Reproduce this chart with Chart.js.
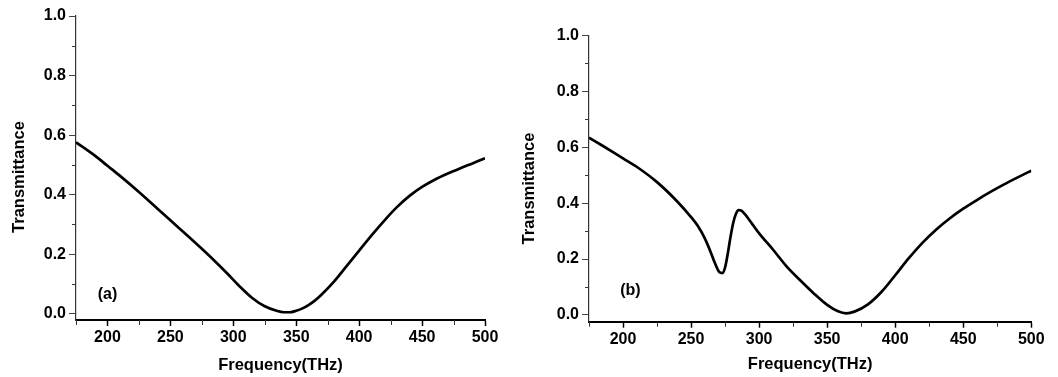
<!DOCTYPE html>
<html>
<head>
<meta charset="utf-8">
<script src="https://cdn.jsdelivr.net/npm/chart.js@4"></script>
<style>
  html, body { margin: 0; padding: 0; background: #fff; }
  #wrap { position: relative; width: 1058px; height: 377px; overflow: hidden; }
  .panel { position: absolute; top: 0; height: 377px; }
  #panelA { left: 0; width: 515px; }
  #panelB { left: 515px; width: 543px; }
</style>
</head>
<body>
<div id="wrap">
  <div class="panel" id="panelA"><canvas id="chartA"></canvas></div>
  <div class="panel" id="panelB"><canvas id="chartB"></canvas></div>
</div>
<script>
// Panel (a): single dip
const freqA = [175, 190, 200, 210, 225, 240, 250, 265, 275, 285, 295, 305, 315, 325, 335, 340, 345, 350, 355, 360, 365, 370,
  380, 390, 400, 410, 420, 430, 440, 450, 460, 470, 480, 490, 500];
const transA = [0.576, 0.531, 0.497, 0.463, 0.409, 0.352, 0.314, 0.257, 0.218, 0.178, 0.136, 0.092, 0.053, 0.025, 0.009, 0.005, 0.005, 0.010, 0.018, 0.030, 0.045, 0.064,
  0.108, 0.160, 0.212, 0.264, 0.313, 0.358, 0.396, 0.426, 0.450, 0.470, 0.488, 0.505, 0.522];

// Panel (b): sharp dip near 272 THz plus broad dip
const freqB = [175, 185, 200, 210, 225, 240, 250, 255, 260, 264, 268, 271, 273, 275, 277, 279, 281, 283, 285, 287,
  290, 295, 300, 310, 320, 330, 340, 350, 358, 364, 370, 380, 390, 400, 410, 420, 430, 440, 450, 460, 470, 480, 490, 500];
const transB = [0.634, 0.605, 0.560, 0.530, 0.475, 0.405, 0.350, 0.318, 0.275, 0.230, 0.180, 0.152, 0.150, 0.170, 0.220, 0.280, 0.330, 0.362, 0.375, 0.373,
  0.358, 0.325, 0.292, 0.235, 0.175, 0.125, 0.078, 0.036, 0.013, 0.006, 0.012, 0.038, 0.083, 0.142, 0.203, 0.258, 0.305, 0.345, 0.380, 0.411, 0.440, 0.467, 0.492, 0.516];

const xTickValues = [200, 250, 300, 350, 400, 450, 500];
const xMinorValues = [175, 225, 275, 325, 375, 425, 475];
const yTickValues = [0, 0.2, 0.4, 0.6, 0.8, 1.0];
const yMinorValues = [0.1, 0.3, 0.5, 0.7, 0.9];

const fontFamily = "'Liberation Sans', Arial, sans-serif";
Chart.defaults.font.family = fontFamily;
Chart.defaults.font.weight = 'bold';
Chart.defaults.font.size = 16;
Chart.defaults.color = '#000';

// minor ticks, y title and panel label
const extras = {
  id: 'extras',
  afterDraw(chart, args, opts) {
    const { ctx, chartArea, scales: { x, y } } = chart;
    ctx.save();
    ctx.strokeStyle = '#333';
    ctx.lineWidth = 1;
    xMinorValues.forEach(v => {
      const px = Math.round(x.getPixelForValue(v)) + 0.5;
      ctx.beginPath();
      ctx.moveTo(px, chartArea.bottom);
      ctx.lineTo(px, chartArea.bottom + 5);
      ctx.stroke();
    });
    yMinorValues.forEach(v => {
      const py = Math.round(y.getPixelForValue(v)) + 0.5;
      ctx.beginPath();
      ctx.moveTo(chartArea.left, py);
      ctx.lineTo(chartArea.left - 4, py);
      ctx.stroke();
    });

    ctx.fillStyle = '#000';
    ctx.font = 'bold 16px ' + fontFamily;
    ctx.textAlign = 'center';
    ctx.textBaseline = 'middle';
    ctx.fillText(opts.label, x.getPixelForValue(opts.labelAt[0]), y.getPixelForValue(opts.labelAt[1]));

    ctx.font = 'bold 16.5px ' + fontFamily;
    ctx.translate(opts.titleX, (chartArea.top + chartArea.bottom) / 2 + opts.titleDy);
    ctx.rotate(-Math.PI / 2);
    ctx.fillText('Transmittance', 0, 0);
    ctx.restore();
  }
};

function makeChart(id, freq, trans, cfg) {
  const points = freq.map((f, i) => ({ x: f, y: trans[i] }));
  return new Chart(document.getElementById(id), {
    type: 'line',
    data: {
      datasets: [{
        data: points,
        borderColor: '#000',
        borderWidth: 2.7,
        pointRadius: 0,
        cubicInterpolationMode: 'monotone',
        fill: false
      }]
    },
    options: {
      responsive: true,
      maintainAspectRatio: false,
      animation: false,
      layout: { padding: cfg.padding },
      plugins: {
        legend: { display: false },
        tooltip: { enabled: false },
        extras: { label: cfg.label, labelAt: cfg.labelAt, titleX: cfg.titleX, titleDy: cfg.titleDy }
      },
      scales: {
        x: {
          type: 'linear',
          min: 175,
          max: 500,
          afterBuildTicks: s => { s.ticks = xTickValues.map(v => ({ value: v })); },
          afterFit: s => { s.height = cfg.xHeight; },
          ticks: { padding: 2, maxRotation: 0, callback: v => String(v) },
          grid: { drawOnChartArea: false, drawTicks: true, tickLength: 6, tickColor: '#000', tickWidth: 1.5 },
          border: { display: true, color: '#000', width: 2 },
          title: { display: true, text: 'Frequency(THz)', padding: 0, font: { size: 16.5 } }
        },
        y: {
          min: cfg.yMin,
          max: 1.0,
          afterBuildTicks: s => { s.ticks = yTickValues.map(v => ({ value: v })); },
          afterFit: s => { s.width = cfg.yWidth; },
          ticks: { padding: 3, callback: v => v.toFixed(1) },
          grid: { drawOnChartArea: false, drawTicks: true, tickLength: 7, tickColor: '#444', tickWidth: 1 },
          border: { display: true, color: '#333', width: 1.2 }
        }
      }
    },
    plugins: [extras]
  });
}

makeChart('chartA', freqA, transA, {
  padding: { left: 0, right: 30, top: 16, bottom: 1.5 },
  xHeight: 55.5, yWidth: 76, yMin: -0.021,
  label: '(a)', labelAt: [200, 0.063], titleX: 19, titleDy: 9
});
makeChart('chartB', freqB, transB, {
  padding: { left: 0, right: 26.7, top: 35.3, bottom: 3 },
  xHeight: 52.3, yWidth: 74, yMin: -0.024,
  label: '(b)', labelAt: [205.4, 0.086], titleX: 14, titleDy: 10
});
</script>
</body>
</html>
